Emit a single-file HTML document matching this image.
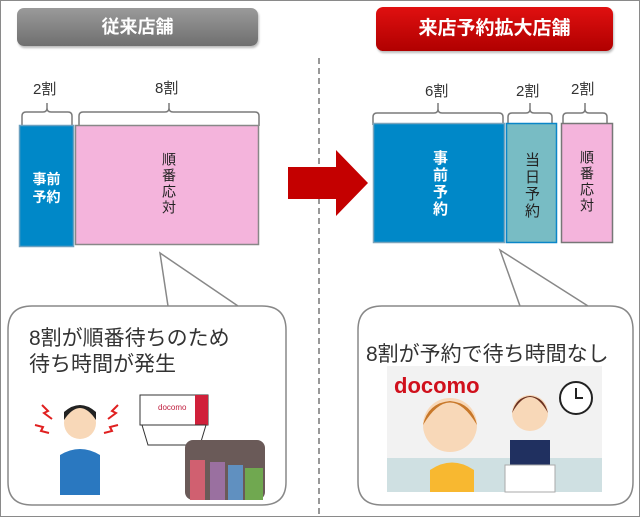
<!DOCTYPE html>
<html><head><meta charset="utf-8"><style>
body{margin:0;width:640px;height:517px;overflow:hidden;background:#fff;font-family:"Liberation Sans","Noto Sans CJK JP",sans-serif}
.a{position:absolute}
.v{writing-mode:vertical-rl;text-orientation:upright;letter-spacing:2px}
</style></head><body>
<div class="a" style="left:0;top:0;width:638px;height:515px;border:1px solid #8a8a8a"></div>
<div class="a" style="left:17px;top:8px;width:241px;height:38px;border-radius:7px;background:linear-gradient(#9a9a9a,#6f6f6f);box-shadow:1px 2px 2px #bbb;color:#fff;font-weight:bold;font-size:18px;text-align:center;line-height:38px">従来店舗</div>
<div class="a" style="left:376px;top:7px;width:237px;height:44px;border-radius:7px;background:linear-gradient(#e01010,#b00000);box-shadow:1px 2px 2px #bbb;color:#fff;font-weight:bold;font-size:19px;text-align:center;line-height:44px">来店予約拡大店舗</div>
<svg class="a" style="left:0;top:0" width="640" height="517">
<line x1="319" y1="58" x2="319" y2="517" stroke="#777" stroke-width="1.5" stroke-dasharray="6,4"/>
<g fill="none" stroke="#7a7a7a" stroke-width="1.5">
<path d="M22,126 v-10 q0,-4 4,-4 h17 q4,0 4,-4 v-5 M47,108 q0,4 4,4 h17 q4,0 4,4 v10"/>
<path d="M79,126 v-10 q0,-4 4,-4 h82 q4,0 4,-4 v-5 M169,108 q0,4 4,4 h82 q4,0 4,4 v10"/>
<path d="M373,125 v-8 q0,-4 4,-4 h57 q4,0 4,-4 v-6 M438,109 q0,4 4,4 h57 q4,0 4,4 v8"/>
<path d="M508,125 v-8 q0,-4 4,-4 h14 q4,0 4,-4 v-6 M530,109 q0,4 4,4 h14 q4,0 4,4 v8"/>
<path d="M563,125 v-8 q0,-4 4,-4 h14 q4,0 4,-4 v-6 M585,109 q0,4 4,4 h14 q4,0 4,4 v8"/>
</g>
<rect x="19.5" y="125.5" width="54" height="121" fill="#0088c8" stroke="#6aa0c0" stroke-width="1.5"/>
<rect x="75.5" y="125.5" width="183" height="119" fill="#f4b4dc" stroke="#888" stroke-width="1.5"/>
<rect x="373.5" y="123.5" width="131" height="119" fill="#0088c8" stroke="#7aa4bc" stroke-width="1.5"/>
<rect x="506.5" y="123.5" width="50" height="119" fill="#78bcc4" stroke="#0a86c8" stroke-width="1.5"/>
<rect x="561.5" y="123.5" width="51" height="119" fill="#f4b4dc" stroke="#777" stroke-width="1.5"/>
<polygon points="288,167 336,167 336,150 368,183 336,216 336,199 288,199" fill="#c40000"/>
<path d="M160,253 L168,306 H262 Q286,306 286,330 V482 Q286,505 262,505 H32 Q8,505 8,482 V330 Q8,306 32,306 H238 Z" fill="#fff" stroke="#888" stroke-width="1.5"/>
<path d="M500,250 L520,306 H610 Q633,306 633,330 V482 Q633,505 610,505 H382 Q358,505 358,482 V330 Q358,306 382,306 H588 Z" fill="#fff" stroke="#888" stroke-width="1.5"/>
<rect x="140" y="395" width="68" height="30" fill="#fff" stroke="#333"/>
<rect x="195" y="395" width="13" height="30" fill="#d0203a"/>
<text x="158" y="410" font-size="8" fill="#c02040" font-family="Liberation Sans">docomo</text>
<polygon points="142,425 206,425 200,445 148,445" fill="#fff" stroke="#333"/>
<rect x="185" y="440" width="80" height="60" rx="8" fill="#6a5a58"/>
<rect x="190" y="460" width="15" height="40" fill="#d06070"/><rect x="210" y="462" width="15" height="38" fill="#9a70a0"/><rect x="228" y="465" width="15" height="35" fill="#6090c0"/><rect x="245" y="468" width="18" height="32" fill="#70a850"/>
<circle cx="80" cy="423" r="16" fill="#f8d8b8"/><path d="M64,420 q16,-24 32,0 v-8 q-16,-14 -32,0z" fill="#222"/>
<path d="M60,495 v-40 q20,-12 40,0 v40z" fill="#2a78c0"/>
<g stroke="#e02020" stroke-width="2" fill="none"><path d="M42,405 l6,6 -4,2 8,6"/><path d="M118,405 l-6,6 4,2 -8,6"/><path d="M35,425 l8,2 -2,4 8,2"/><path d="M118,425 l-8,2 2,4 -8,2"/></g>
<rect x="387" y="366" width="215" height="126" fill="#f2f2f2"/>
<rect x="387" y="458" width="215" height="34" fill="#cfe0e2"/>
<text x="394" y="393" font-size="22" font-weight="bold" fill="#d0101c" font-family="Liberation Sans">docomo</text>
<circle cx="576" cy="398" r="16" fill="#fff" stroke="#222" stroke-width="2"/><path d="M576,388 v10 h7" stroke="#222" stroke-width="2" fill="none"/>
<circle cx="450" cy="425" r="27" fill="#f8d8b8"/><path d="M423,425 q27,-45 54,0 q-5,-22 -27,-24 q-22,2 -27,24z" fill="#c8782a"/>
<path d="M430,492 v-22 q22,-15 44,0 v22z" fill="#f8b830"/>
<circle cx="530" cy="413" r="18" fill="#f8d8b8"/><path d="M512,413 q18,-32 36,0 q-4,-16 -18,-17 q-14,1 -18,17z" fill="#6a3020"/>
<rect x="510" y="440" width="40" height="30" fill="#203060"/><rect x="505" y="465" width="50" height="27" fill="#fff" stroke="#aaa"/>
</svg>
<div class="a" style="left:33px;top:78px;font-size:15px;color:#333">2割</div>
<div class="a" style="left:155px;top:77px;font-size:15px;color:#333">8割</div>
<div class="a" style="left:425px;top:80px;font-size:15px;color:#333">6割</div>
<div class="a" style="left:516px;top:80px;font-size:15px;color:#333">2割</div>
<div class="a" style="left:571px;top:78px;font-size:15px;color:#333">2割</div>
<div class="a" style="left:19px;top:170px;width:55px;text-align:center;color:#fff;font-weight:bold;font-size:14px;line-height:18px">事前<br>予約</div>
<div class="a v" style="left:159px;top:152px;font-size:14px;color:#222">順番応対</div>
<div class="a v" style="left:429px;top:150px;font-size:15px;color:#fff;font-weight:bold">事前予約</div>
<div class="a v" style="left:521px;top:152px;font-size:15px;color:#222">当日予約</div>
<div class="a v" style="left:577px;top:150px;font-size:14px;color:#222">順番応対</div>
<div class="a" style="left:29px;top:326px;font-size:21px;color:#333;line-height:26px;white-space:nowrap">8割が順番待ちのため<br>待ち時間が発生</div>
<div class="a" style="left:366px;top:338px;font-size:21px;color:#333;white-space:nowrap">8割が予約で待ち時間なし</div>
</body></html>
